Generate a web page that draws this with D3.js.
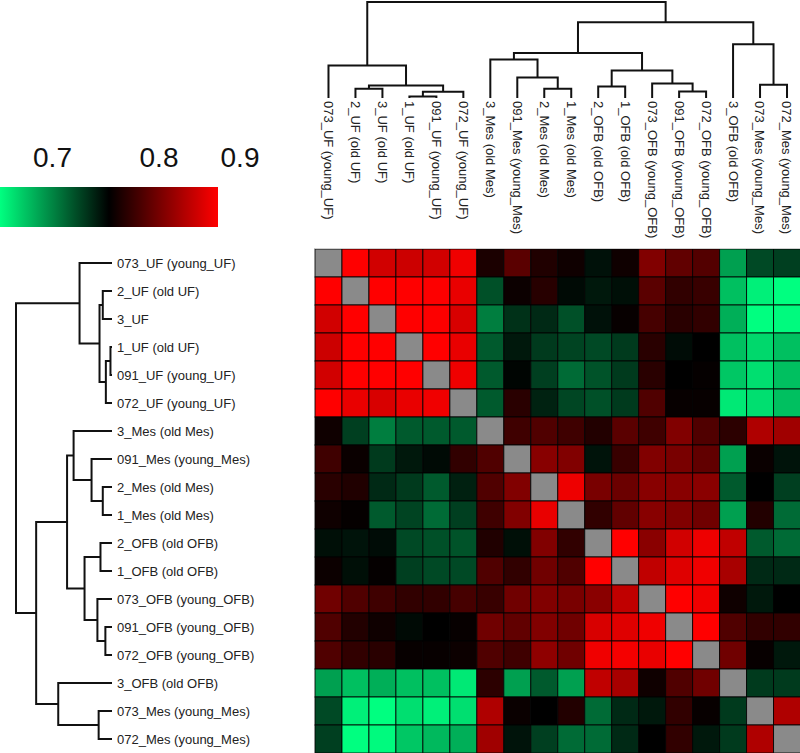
<!DOCTYPE html>
<html><head><meta charset="utf-8">
<script src="https://cdn.jsdelivr.net/npm/d3@7"></script>
<style>body{margin:0;background:#fff} text{font-family:"Liberation Sans",Arial,sans-serif}</style>
</head><body><svg id="chart" width="800" height="753"></svg>
<script>
const rowLabels = ["073_UF (young_UF)","2_UF (old UF)","3_UF","1_UF (old UF)","091_UF (young_UF)","072_UF (young_UF)","3_Mes (old Mes)","091_Mes (young_Mes)","2_Mes (old Mes)","1_Mes (old Mes)","2_OFB (old OFB)","1_OFB (old OFB)","073_OFB (young_OFB)","091_OFB (young_OFB)","072_OFB (young_OFB)","3_OFB (old OFB)","073_Mes (young_Mes)","072_Mes (young_Mes)"];
const colLabels = ["073_UF (young_UF)","2_UF (old UF)","3_UF (old UF)","1_UF (old UF)","091_UF (young_UF)","072_UF (young_UF)","3_Mes (old Mes)","091_Mes (young_Mes)","2_Mes (old Mes)","1_Mes (old Mes)","2_OFB (old OFB)","1_OFB (old OFB)","073_OFB (young_OFB)","091_OFB (young_OFB)","072_OFB (young_OFB)","3_OFB (old OFB)","073_Mes (young_Mes)","072_Mes (young_Mes)"];
// correlation matrix (null = diagonal)
const corr = [
[null,0.860,0.841,0.839,0.841,0.854,0.766,0.792,0.768,0.761,0.748,0.761,0.808,0.795,0.789,0.689,0.725,0.729],
[0.860,null,0.860,0.860,0.859,0.851,0.722,0.760,0.771,0.751,0.745,0.749,0.792,0.775,0.778,0.676,0.656,0.650],
[0.841,0.860,null,0.860,0.859,0.844,0.703,0.735,0.738,0.722,0.748,0.758,0.784,0.772,0.775,0.683,0.650,0.652],
[0.839,0.860,0.860,null,0.860,0.851,0.718,0.745,0.731,0.727,0.725,0.731,0.772,0.750,0.755,0.676,0.666,0.676],
[0.841,0.860,0.860,0.860,null,0.854,0.718,0.753,0.729,0.711,0.721,0.731,0.772,0.755,0.757,0.673,0.663,0.676],
[0.860,0.851,0.844,0.851,0.854,null,0.718,0.772,0.741,0.726,0.722,0.731,0.788,0.758,0.758,0.659,0.663,0.676],
[0.761,0.729,0.703,0.718,0.718,0.718,null,0.781,0.788,0.781,0.769,0.792,0.781,0.808,0.788,0.773,0.827,0.821],
[0.781,0.759,0.731,0.745,0.751,0.775,0.788,null,0.811,0.808,0.747,0.778,0.808,0.805,0.795,0.689,0.759,0.747],
[0.772,0.768,0.738,0.731,0.718,0.742,0.788,0.808,null,0.853,0.805,0.799,0.811,0.811,0.812,0.718,0.755,0.729],
[0.761,0.757,0.718,0.727,0.711,0.729,0.781,0.808,0.851,null,0.775,0.795,0.811,0.808,0.801,0.689,0.769,0.711],
[0.749,0.747,0.750,0.725,0.722,0.721,0.768,0.749,0.808,0.775,null,0.860,0.812,0.841,0.853,0.834,0.718,0.711],
[0.760,0.749,0.757,0.729,0.725,0.725,0.788,0.775,0.801,0.788,0.860,null,0.834,0.847,0.854,0.824,0.738,0.738],
[0.801,0.788,0.781,0.775,0.775,0.784,0.778,0.801,0.808,0.805,0.812,0.834,null,0.860,0.854,0.761,0.745,0.755],
[0.788,0.769,0.761,0.751,0.755,0.758,0.801,0.795,0.808,0.801,0.844,0.847,0.854,null,0.860,0.788,0.775,0.775],
[0.788,0.775,0.772,0.758,0.758,0.760,0.788,0.781,0.814,0.801,0.854,0.856,0.851,0.860,null,0.801,0.758,0.745],
[0.689,0.676,0.683,0.676,0.676,0.659,0.773,0.689,0.718,0.689,0.834,0.824,0.761,0.788,0.801,null,0.731,0.731],
[0.725,0.656,0.650,0.663,0.656,0.663,0.827,0.759,0.755,0.769,0.711,0.738,0.745,0.775,0.758,0.731,null,0.827],
[0.729,0.650,0.652,0.673,0.679,0.683,0.821,0.747,0.729,0.711,0.711,0.738,0.755,0.775,0.745,0.731,0.827,null]
];
// hclust-style merges: negative = leaf -(index+1), positive = merge number (1-based); third = height
const merges = [
[-2,-3,0.096],[-4,-5,0.016],[2,-6,0.064],[1,3,0.13],[-1,4,0.338],
[-9,-10,0.096],[-8,6,0.213],[-7,7,0.40],
[-11,-12,0.12],[-14,-15,0.069],[-13,10,0.152],[9,11,0.286],[8,12,0.468],
[-17,-18,0.139],[-16,14,0.56],[13,15,0.79],[5,16,1.0]
];
const legendTicks = [0.7, 0.8, 0.9];
const colorStops = [0.65, 0.755, 0.86];
const colorRange = ["#00ff80", "#000000", "#ff0000"];

const svg = d3.select("#chart");
const n = rowLabels.length;
const xB = d3.scaleBand().domain(d3.range(n)).range([315, 800.5]);
const yB = d3.scaleBand().domain(d3.range(n)).range([249, 753]);
const color = d3.scaleLinear().domain(colorStops).range(colorRange).clamp(true);

// heatmap
const cells = [];
corr.forEach((row, i) => row.forEach((v, j) => cells.push({i, j, v})));
svg.append("g").selectAll("rect").data(cells).join("rect")
  .attr("x", d => xB(d.j)).attr("y", d => yB(d.i))
  .attr("width", xB.bandwidth()).attr("height", yB.bandwidth())
  .attr("fill", d => d.v == null ? "#8a8a8a" : color(d.v))
  .attr("stroke", "#000").attr("stroke-width", 1).attr("stroke-opacity", 0.85);
svg.append("line").attr("x1", 315).attr("x2", 800).attr("y1", 248.5).attr("y2", 248.5)
  .attr("stroke", "#d0d0d0").attr("stroke-width", 1);

// dendrogram helper
function dendro(posOf, hScale, orient) {
  const pos = [], hgt = [];
  const get = k => k < 0 ? {p: posOf(-k - 1), h: 0} : {p: pos[k - 1], h: hgt[k - 1]};
  const paths = [];
  merges.forEach(([a, b, h]) => {
    const A = get(a), B = get(b);
    pos.push((A.p + B.p) / 2); hgt.push(h);
    paths.push({A, B, h});
  });
  const line = d3.line();
  return paths.map(({A, B, h}) => {
    const pts = [[hScale(A.h), A.p], [hScale(h), A.p], [hScale(h), B.p], [hScale(B.h), B.p]];
    return line(orient === "left" ? pts : pts.map(([u, v]) => [v, u]));
  });
}
const leftH = d3.scaleLinear().domain([0, 1]).range([112, 16]);
const topH = d3.scaleLinear().domain([0, 1]).range([98, 2]);
const dg = svg.append("g").attr("fill", "none").attr("stroke", "#111").attr("stroke-width", 2);
dg.selectAll("path.l").data(dendro(i => yB(i) + yB.bandwidth() / 2, leftH, "left")).join("path").attr("class", "l").attr("d", d => d);
dg.selectAll("path.t").data(dendro(i => xB(i) + xB.bandwidth() / 2, topH, "top")).join("path").attr("class", "t").attr("d", d => d);

// labels
svg.append("g").selectAll("text").data(rowLabels).join("text")
  .attr("x", 117).attr("y", (d, i) => yB(i) + yB.bandwidth() / 2).attr("dy", "0.35em")
  .attr("font-size", 13).attr("fill", "#222").text(d => d);
svg.append("g").selectAll("text").data(colLabels).join("text")
  .attr("transform", (d, i) => `translate(${xB(i) + xB.bandwidth() / 2},101) rotate(90)`)
  .attr("dy", "0.35em").attr("font-size", 13).attr("fill", "#222").text(d => d);

// legend
const lx = d3.scaleLinear().domain([colorStops[0], colorStops[2]]).range([0, 218]);
const tickX = d3.scaleLinear().domain(legendTicks).range([52.5, 159, 240]);
const grad = svg.append("defs").append("linearGradient").attr("id", "lg");
d3.range(0, 1.0001, 0.05).forEach(t => {
  const v = colorStops[0] + t * (colorStops[2] - colorStops[0]);
  grad.append("stop").attr("offset", t).attr("stop-color", color(v));
});
svg.append("rect").attr("x", lx(colorStops[0])).attr("y", 187).attr("width", lx(colorStops[2]) - lx(colorStops[0])).attr("height", 40).attr("fill", "url(#lg)");
svg.append("g").selectAll("text").data(legendTicks).join("text")
  .attr("x", d => tickX(d)).attr("y", 167).attr("text-anchor", "middle")
  .attr("font-size", 28).attr("fill", "#111").text(d => d3.format(".1f")(d));
</script></body></html>
